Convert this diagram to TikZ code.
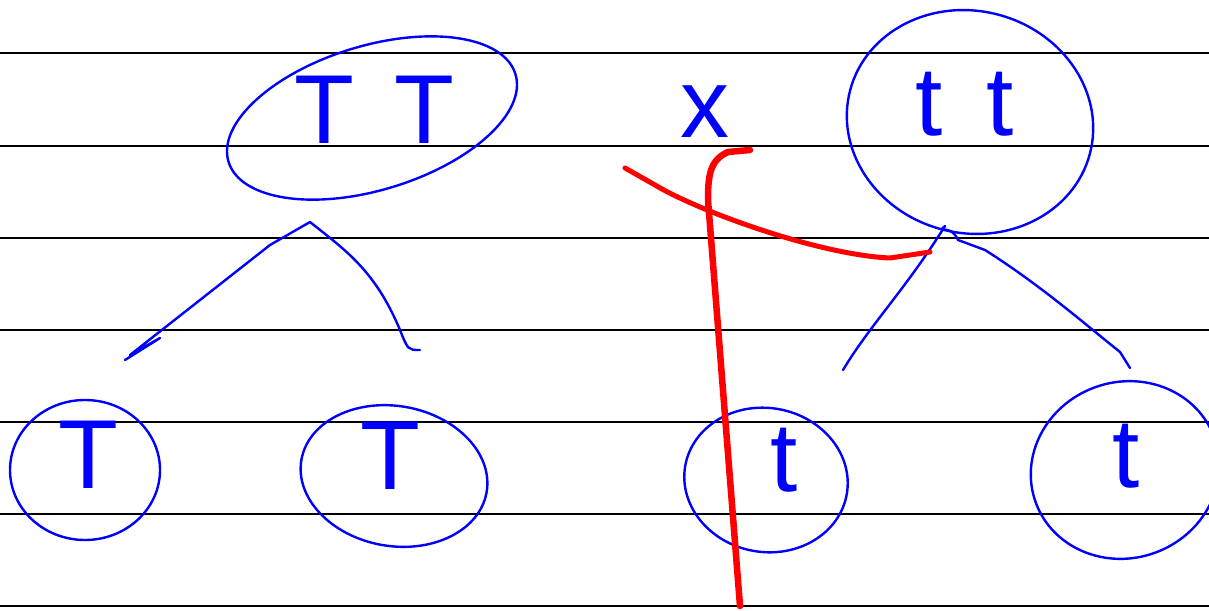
\documentclass[tikz,border=0pt]{standalone}
\usepackage{fontspec}
\setmainfont{Liberation Sans}
\usetikzlibrary{calc}

\tikzset{
  rule/.style={black, line width=1.5pt},
  ink/.style={blue, line width=2.4pt, line cap=round, line join=round},
  strike/.style={red, line width=5pt, line cap=round, line join=round},
  letter/.style={blue, inner sep=0pt, font=\fontsize{98}{98}\selectfont}
}

\begin{document}
\begin{tikzpicture}[x=1pt,y=-1pt]
    \useasboundingbox (0,0) rectangle (1209,610);

    % ruled paper
    \foreach \yy in {53,146,238,330,422,514,606}
        \draw[rule] (0,\yy) -- (1209,\yy);

    % upper terms
    \node[letter] (TT) at (374,110) {T\hspace{40pt}T};
    \node[letter] (cross) at (705,112) {x};
    \node[letter] (tt) at (965,104) {t\hspace{44pt}t};
    \draw[ink, rotate around={17:(372,118)}] (372,118) ellipse (150 and 72);
    \draw[ink, rotate around={-15:(970,122)}] (970,122) ellipse (124 and 111);

    % lower terms
    \node[letter] (T1) at (88,455) {T};
    \node[letter] (T2) at (390,456) {T};
    \node[letter] (t1) at (784,460) {t};
    \node[letter] (t2) at (1126,456) {t};
    \draw[ink] (85,470) ellipse (75 and 70);
    \draw[ink, rotate around={-10:(394,476)}] (394,476) ellipse (94 and 70);
    \draw[ink, rotate around={-10:(766,480)}] (766,480) ellipse (82 and 72);
    \draw[ink, rotate around={20:(1125,470)}] (1125,470) ellipse (95 and 88);

    % branches
    \coordinate (Ttop) at (310,222);
    \coordinate (Tleft) at (125,360);
    \coordinate (Tright) at (420,350);
    \coordinate (ttop) at (945,226);
    \coordinate (tleft) at (843,370);
    \coordinate (tright) at (1130,368);

    \draw[ink] (Tleft) -- (160,338) -- (130,355) -- (270,245) -- (Ttop)
        .. controls (345,250) and (375,270) .. (400,330) .. controls (408,350) .. (Tright);
    \draw[ink] (tleft) .. controls (870,325) and (905,290) .. (ttop)
        .. controls (935,235) and (950,222) .. (958,240) -- (985,250)
        .. controls (1040,285) and (1080,320) .. (1120,352) -- (tright);

    % cancellation strokes
    \draw[strike, line width=6.5pt] (750,150) -- (728,152)
        .. controls (710,160) and (708,175) .. (708,200) -- (740,606);
    \draw[strike] (625,168) -- (655,185)
        .. controls (700,212) and (820,255) .. (890,258) -- (930,252);
\end{tikzpicture}
\end{document}
